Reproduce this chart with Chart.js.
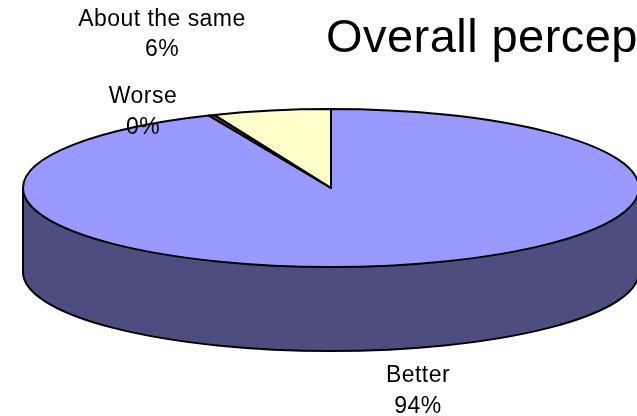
<!DOCTYPE html>
<html>
<head>
<meta charset="utf-8">
<style>html,body{margin:0;padding:0;background:#fff}canvas{display:block}</style>
<script src="https://cdn.jsdelivr.net/npm/chart.js@4/dist/chart.umd.min.js"></script>
</head>
<body>
<canvas id="c" width="637" height="416"></canvas>
<script>
const categories = ["Better", "Worse", "About the same"];
const values = [93.5, 0.3, 6.2];
const percentLabels = ["94%", "0%", "6%"];
const sliceColors = ["#9999FF", "#993366", "#FFFFCC"];
const sideColor = "#4D4D80";
const titleText = "Overall perception";

const FONT = '"Liberation Sans", Arial, sans-serif';
const view = { cx: 331, cy: 188, rx: 308, ry: 79, depth: 84 };
const labelAnchors = [
  { x: 418, y1: 382, y2: 413 },
  { x: 143, y1: 103, y2: 134 },
  { x: 162, y1: 26, y2: 56 }
];

const pie3d = {
  id: "pie3d",
  beforeDatasetsDraw(chart) {
    const c = chart.ctx, v = view;
    c.save();
    c.beginPath();
    c.moveTo(v.cx - v.rx, v.cy);
    c.lineTo(v.cx - v.rx, v.cy + v.depth);
    c.ellipse(v.cx, v.cy + v.depth, v.rx, v.ry, 0, Math.PI, 0, true);
    c.lineTo(v.cx + v.rx, v.cy);
    c.closePath();
    c.fillStyle = sideColor;
    c.fill();
    c.lineWidth = 2;
    c.strokeStyle = "#000";
    c.stroke();
    c.restore();
  },
  beforeDatasetDraw(chart) {
    const c = chart.ctx, v = view, a = chart.getDatasetMeta(0).data[0];
    c.save();
    c.translate(v.cx, v.cy);
    c.scale(v.rx / a.outerRadius, v.ry / a.outerRadius);
    c.translate(-a.x, -a.y);
  },
  afterDatasetDraw(chart) {
    const c = chart.ctx, v = view;
    c.restore();
    c.save();
    c.lineWidth = 2;
    c.strokeStyle = "#000";
    c.lineJoin = "round";
    const arcs = chart.getDatasetMeta(0).data;
    arcs.forEach(a => {
      c.beginPath();
      c.moveTo(v.cx, v.cy);
      c.ellipse(v.cx, v.cy, v.rx, v.ry, 0, a.startAngle, a.endAngle);
      c.closePath();
      c.stroke();
    });
    c.restore();
  },
  afterDraw(chart) {
    const c = chart.ctx;
    c.save();
    c.fillStyle = "#000";
    c.textAlign = "center";
    c.textBaseline = "alphabetic";
    c.font = "23px " + FONT;
    c.letterSpacing = "0.45px";
    categories.forEach((name, i) => {
      const p = labelAnchors[i];
      c.fillText(name, p.x, p.y1);
      c.fillText(percentLabels[i], p.x, p.y2);
    });
    c.textAlign = "left";
    c.font = "47px " + FONT;
    c.fontKerning = "none";
    c.letterSpacing = "0.45px";
    c.fillText(titleText, 326, 52);
    c.restore();
  }
};

new Chart(document.getElementById("c"), {
  type: "pie",
  data: {
    labels: categories,
    datasets: [{ data: values, backgroundColor: sliceColors, borderWidth: 0 }]
  },
  options: {
    responsive: false,
    animation: false,
    plugins: { legend: { display: false }, tooltip: { enabled: false }, title: { display: false } }
  },
  plugins: [pie3d]
});
</script>
</body>
</html>
